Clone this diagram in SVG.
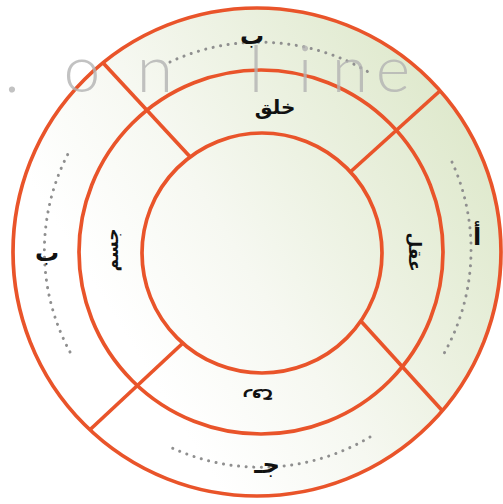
<svg xmlns="http://www.w3.org/2000/svg" width="503" height="504" viewBox="0 0 503 504">
<defs>
<linearGradient id="bg" gradientUnits="userSpaceOnUse" x1="140" y1="360" x2="480" y2="150">
<stop offset="0" stop-color="#ffffff"/>
<stop offset="0.35" stop-color="#f6f8f1"/>
<stop offset="1" stop-color="#dfe9cd"/>
</linearGradient>
<mask id="ringMask" maskUnits="userSpaceOnUse" x="0" y="0" width="503" height="504">
<circle cx="257" cy="252" r="244" fill="#fff"/>
<circle cx="262" cy="253" r="120" fill="#000"/>
</mask>
</defs>
<style>
.ring{fill:none;stroke:#e9542a;stroke-width:3.7}
.div{stroke:#e9542a;stroke-width:3.7}
.dots{fill:none;stroke:#8f8f8f;stroke-width:3;stroke-linecap:round;stroke-dasharray:0.1 7.5}
.lbl{font-family:"DejaVu Sans",sans-serif;font-weight:bold;fill:#111;text-anchor:middle;dominant-baseline:central}
.wm{font-family:"Lato","Liberation Sans",sans-serif;font-weight:300;font-size:66px;fill:#b3b3b3;text-anchor:middle}
</style>
<rect width="503" height="504" fill="#ffffff"/>
<g id="diagram">
<circle cx="257" cy="252" r="244" fill="url(#bg)"/>
<g id="connectors" mask="url(#ringMask)">
<line class="div" x1="206" y1="174" x2="93" y2="52"/>
<line class="div" x1="337" y1="184" x2="452" y2="80"/>
<line class="div" x1="349" y1="308" x2="458" y2="428"/>
<line class="div" x1="198" y1="329" x2="80" y2="439"/>
</g>
<g id="rings">
<circle class="ring" cx="257" cy="252" r="244"/>
<circle class="ring" cx="261" cy="252" r="182"/>
<circle class="ring" cx="262" cy="253" r="120"/>
</g>
<g id="dotted-arcs">
<path class="dots" d="M170,62 A213,213 0 0 1 370,73"/>
<path class="dots" d="M452,162 A212,212 0 0 1 442,357"/>
<path class="dots" d="M370,437 A213,213 0 0 1 170,447"/>
<path class="dots" d="M70,352 A212,212 0 0 1 70,150"/>
</g>
<g id="node-top-outer"><text class="lbl" x="252" y="36" font-size="24">ب</text></g>
<g id="node-right-outer"><text class="lbl" x="477" y="237" font-size="24">أ</text></g>
<g id="node-left-outer"><text class="lbl" x="47" y="253" font-size="24">ب</text></g>
<g id="node-bottom-outer"><text class="lbl" x="267" y="465" font-size="24">جـ</text></g>
<g id="node-top-inner"><text class="lbl" x="275" y="107" font-size="20">خلق</text></g>
<g id="node-right-inner"><text class="lbl" x="0" y="0" font-size="17" transform="translate(415,252) rotate(90)">عقل</text></g>
<g id="node-left-inner"><text class="lbl" x="0" y="0" font-size="17" transform="translate(112,250) rotate(-90)">جسم</text></g>
<g id="node-bottom-inner"><text class="lbl" x="0" y="0" font-size="16" transform="translate(258,398) rotate(180)">روح</text></g>
</g>
<g id="watermark" opacity="0.8">
<text class="wm" x="12" y="92">.</text>
<text class="wm" x="82" y="92">o</text>
<text class="wm" x="155" y="92">n</text>
<text class="wm" x="256" y="92">l</text>
<text class="wm" x="305" y="92">i</text>
<text class="wm" x="350" y="92">n</text>
<text class="wm" x="393" y="92">e</text>
</g>
</svg>
